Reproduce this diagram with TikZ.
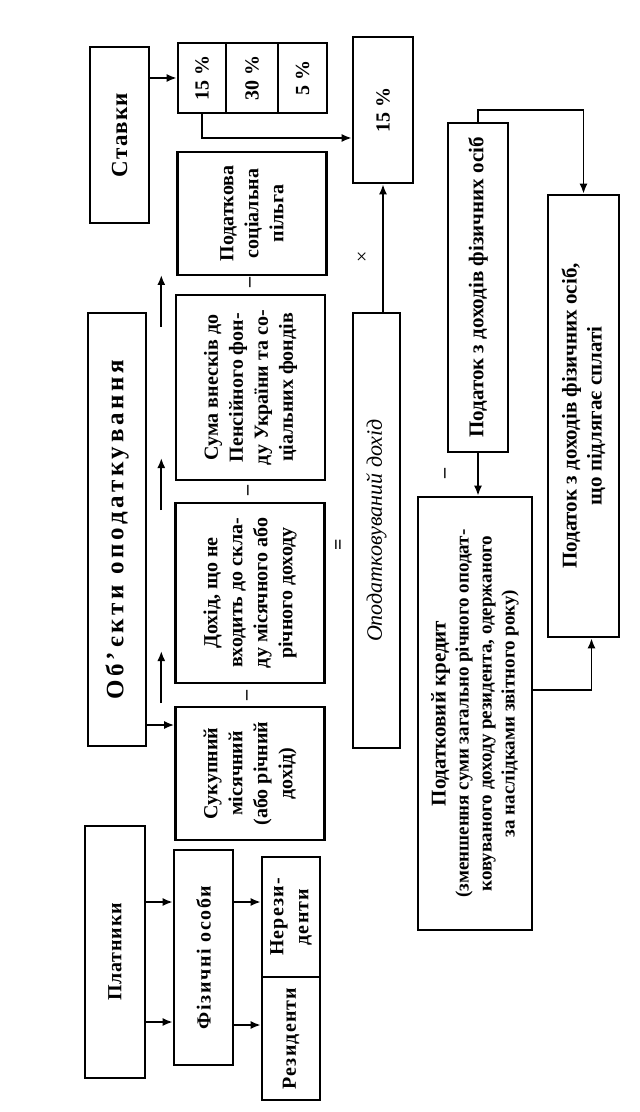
\documentclass[tikz,border=0pt]{standalone}
\usepackage{fontspec}
\setmainfont{Liberation Serif}
\usetikzlibrary{arrows.meta}

\begin{document}
\begin{tikzpicture}[
    x=0.5pt, y=-0.5pt, >={Latex[length=5pt,width=4pt]},
    box/.style={rectangle, draw=black, line width=1.3pt, rotate=90, align=center, inner sep=1pt, font=\bfseries\fontsize{10}{12.5}\selectfont},
    sign/.style={rotate=90, inner sep=0pt, font=\bfseries\fontsize{10}{12}\selectfont},
    line/.style={draw, ->, line width=0.9pt}
  ]
    \useasboundingbox (0,0) rectangle (640,1112);

    % payers
    \node (payers) [box, minimum width=126pt, minimum height=30pt] at (115,952) {\addfontfeature{LetterSpace=4}Платники};
    \node (persons) [box, minimum width=107.5pt, minimum height=29.5pt] at (203.5,957.5) {\addfontfeature{LetterSpace=8}Фізичні особи};
    \node (nonres) [box, minimum width=60pt, minimum height=29pt] at (291,917) {\addfontfeature{LetterSpace=6}Нерези-\\\addfontfeature{LetterSpace=6}денти};
    \node (res) [box, minimum width=61.5pt, minimum height=29pt] at (291,1038.5) {\addfontfeature{LetterSpace=6}Резиденти};

    % objects of taxation
    \node (objects) [box, minimum width=216.5pt, minimum height=29pt, font=\bfseries\fontsize{12.5}{14}\selectfont] at (117,529.5) {\addfontfeature{LetterSpace=15}Об’єкти оподаткування};
    \node (total) [box, minimum width=66.5pt, minimum height=74.5pt] at (250,773.5) {Сукупний\\місячний\\(або річний\\дохід)};
    \node (excl) [box, minimum width=90pt, minimum height=74.5pt] at (250,593) {Дохід, що не\\входить до скла-\\ду місячного або\\річного доходу};
    \node (contrib) [box, minimum width=92.5pt, minimum height=74.5pt] at (250.5,387.5) {Сума внесків до\\Пенсійного фон-\\ду України та со-\\ціальних фондів};
    \node (relief) [box, minimum width=61.5pt, minimum height=74.5pt] at (252,213.5) {Податкова\\соціальна\\пільга};

    % rates
    \node (rates) [box, minimum width=88pt, minimum height=29.5pt, font=\bfseries\fontsize{11.5}{13}\selectfont] at (119.5,135) {\addfontfeature{LetterSpace=5}Ставки};
    \node (cell15) [box, minimum width=35pt, minimum height=24pt] at (202,78) {15 \%};
    \node (cell30) [box, minimum width=35pt, minimum height=26pt] at (252,78) {30 \%};
    \node (cell5) [box, minimum width=35pt, minimum height=24.5pt] at (302.5,78) {5 \%};
    \node (rate) [box, minimum width=73pt, minimum height=30pt] at (383,110) {15 \%};

    % result
    \node (taxable) [box, minimum width=217.5pt, minimum height=23.5pt, font=\itshape\fontsize{11}{13}\selectfont] at (376.5,530.5) {Оподатковуваний дохід};
    \node (tax) [box, minimum width=164.5pt, minimum height=30pt, font=\bfseries\fontsize{10.5}{12.5}\selectfont] at (478,287.5) {Податок з доходів фізичних осіб};
    \node (credit) [box, minimum width=216.5pt, minimum height=57pt, font=\bfseries\fontsize{9.5}{11.5}\selectfont] at (475,713.5) {{\fontsize{10.5}{12}\selectfont Податковий кредит}\\(зменшення суми загально річного оподат-\\ковуваного доходу резидента, одержаного\\за наслідками звітного року)};
    \node (pay) [box, minimum width=221pt, minimum height=35.5pt, font=\bfseries\fontsize{10.5}{12.5}\selectfont] at (583.5,416) {Податок з доходів фізичних осіб,\\що підлягає сплаті};

    % signs
    \node (minusa) [sign] at (249,695) {–};
    \node (minusb) [sign] at (250,490) {–};
    \node (minusc) [sign] at (252,283) {–};
    \node (minusd) [sign] at (447,473) {–};
    \node (equals) [sign] at (340,545) {=};
    \node (times) [sign, font=\fontsize{10}{12}\selectfont] at (363,257) {×};

    \draw[line] (payers.south |- 0,902) -- (persons.north |- 0,902);
    \draw[line] (payers.south |- 0,1022) -- (persons.north |- 0,1022);
    \draw[line] (persons.south |- 0,902) -- (nonres.north |- 0,902);
    \draw[line] (persons.south |- 0,1025) -- (res.north |- 0,1025);
    \draw[line] (objects.south |- 0,725) -- (total.north |- 0,725);
    \draw[line] ([xshift=7pt]objects.south |- 0,703) -- ++(0,-52);
    \draw[line] ([xshift=7pt]objects.south |- 0,510) -- ++(0,-52);
    \draw[line] ([xshift=7pt]objects.south |- 0,327) -- ++(0,-52);
    \draw[line] (rates.south |- cell15) -- (cell15);
    \draw[line] (cell15.west) |- (rate.north |- 0,138);
    \draw[line] (taxable.east -| rate) -- (rate);
    \draw[line] (tax.east) -- ++(0,-12) -| (pay.east);
    \draw[line] (tax.west) -- (tax.west |- credit.east);
    \draw[line] (credit.south |- 0,690) -| ([xshift=4pt]pay.west);
  \end{tikzpicture}
\end{document}
